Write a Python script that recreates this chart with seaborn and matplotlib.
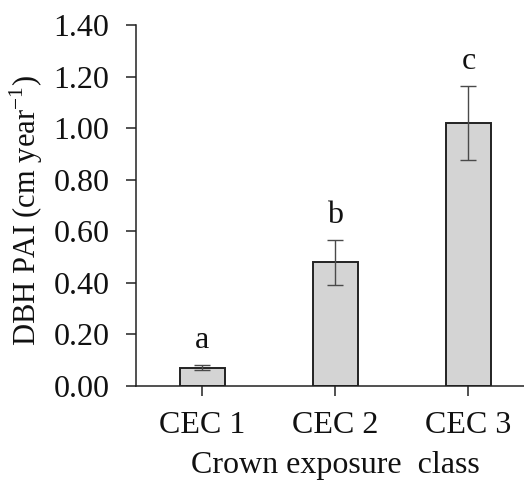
import pandas as pd
import seaborn as sns
import matplotlib.pyplot as plt

classes = ["CEC 1", "CEC 2", "CEC 3"]
pai_mean = [0.07, 0.48, 1.02]
pai_err = [0.01, 0.087, 0.143]
letters = ["a", "b", "c"]
letter_y = [0.177, 0.66, 1.26]
yticks = [0.0, 0.2, 0.4, 0.6, 0.8, 1.0, 1.2, 1.4]

sns.set_style("ticks")
plt.rcParams['font.family'] = ['Liberation Serif', 'DejaVu Serif']
plt.rcParams['mathtext.fontset'] = 'custom'
plt.rcParams['mathtext.rm'] = 'Liberation Serif'

df = pd.DataFrame({'cls': classes, 'pai': pai_mean})

fig = plt.figure(figsize=(5.24, 4.84), dpi=100)
ax = fig.add_axes([0.2595, 0.203, 0.7615, 0.745])

sns.barplot(data=df, x='cls', y='pai', color='#d4d4d4', saturation=1,
            width=0.34, edgecolor='#222222', linewidth=1.4, errorbar=None, ax=ax)
ax.errorbar(range(len(classes)), pai_mean, yerr=pai_err, fmt='none',
            ecolor='#4a4a4a', elinewidth=1.0, capsize=5.5, capthick=1.0, zorder=3)

# significance letters
for i, (lab, y) in enumerate(zip(letters, letter_y)):
    ax.text(i, y, lab, ha='center', va='center', fontsize=23, color='#111111')

ax.set_xlim(-0.5, 2.5)
ax.set_ylim(0, 1.4)
ax.set_yticks(yticks)
ax.set_yticklabels([f"{v:.2f}" for v in yticks])
ax.tick_params(axis='both', labelsize=23, length=7, width=1.1, color='#222222',
               labelcolor='#111111')
ax.tick_params(axis='y', pad=12)
ax.tick_params(axis='x', pad=11)
for s in ['left', 'bottom']:
    ax.spines[s].set_linewidth(1.1)
    ax.spines[s].set_color('#222222')
sns.despine(ax=ax)

ax.set_xlabel("Crown exposure  class", fontsize=23, color='#111111', labelpad=8)
ax.set_ylabel("DBH PAI (cm year$^{\\mathregular{-1}}$)", fontsize=22, color='#111111')
ax.yaxis.set_label_coords(-0.228, 0.485)

fig.savefig("out.png", dpi=100)
